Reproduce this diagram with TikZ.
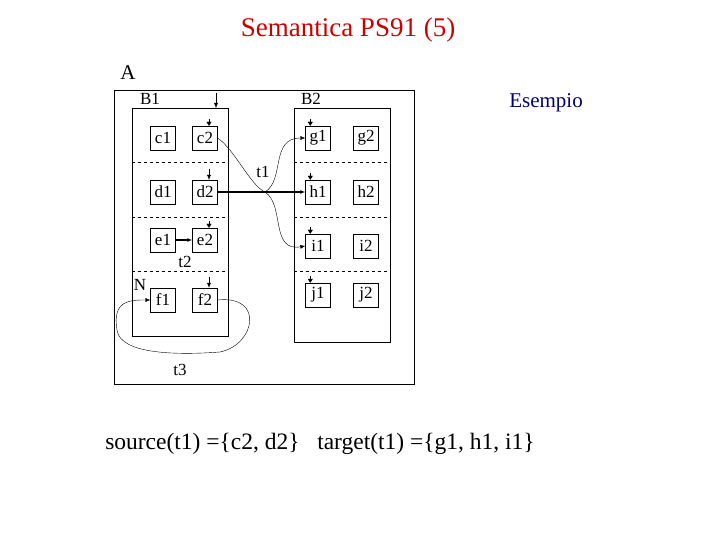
\documentclass[tikz,border=0pt]{standalone}
\usepackage{fontspec}
\setmainfont{Liberation Serif}
\usetikzlibrary{arrows.meta}
\begin{document}
\begin{tikzpicture}[x=1pt,y=-1pt,
  pl/.style={draw,minimum width=25pt,minimum height=24pt,inner sep=0pt,font=\fontsize{17}{17}\selectfont},
  lbl/.style={font=\fontsize{17}{17}\selectfont,inner sep=0pt},
  tok/.style={-{Triangle[length=4pt,width=5pt]}},
  arr/.style={-{Latex[length=5pt,width=4pt]}}]
\useasboundingbox (0,0) rectangle (720,540);
\node[font=\fontsize{27}{27}\selectfont,text=red!80!black] (title) at (348,30) {Semantica PS91 (5)};
\node[lbl,font=\fontsize{21}{21}\selectfont] (A) at (128,73) {A};
\node[font=\fontsize{21}{21}\selectfont,text=blue!45!black] (es) at (546,103) {Esempio};
\draw (114,90) rectangle (414,384);
\draw (132,108) rectangle (228,336);
\draw (294,108) rectangle (390,342);
\foreach \y in {162,217,271}{\draw[dashed] (132,\y)--(228,\y); \draw[dashed] (294,\y)--(390,\y);}
\node[lbl] (B1) at (150,99) {B1};
\node[lbl] (B2) at (311,99) {B2};
\node[pl] (c1) at (163,138) {c1};
\node[pl] (c2) at (205,138) {c2};
\node[pl] (d1) at (163,192) {d1};
\node[pl] (d2) at (205,192) {d2};
\node[pl] (e1) at (163,240) {e1};
\node[pl] (e2) at (205,240) {e2};
\node[pl] (f1) at (163,300) {f1};
\node[pl] (f2) at (205,300) {f2};
\node[pl] (g1) at (318,138) {g1};
\node[pl] (g2) at (366,138) {g2};
\node[pl] (h1) at (318,192) {h1};
\node[pl] (h2) at (366,192) {h2};
\node[pl] (i1) at (318,246) {i1};
\node[pl] (i2) at (366,246) {i2};
\node[pl] (j1) at (318,295) {j1};
\node[pl] (j2) at (366,295) {j2};
\node[lbl] (t1) at (263,172) {t1};
\node[lbl] (t2) at (185,262) {t2};
\node[lbl] (t3) at (180,370) {t3};
\node[lbl] (N) at (140,285) {N};
% tokens
\coordinate (k0) at (216,93);
\draw[arr] (k0) -- (216,108);
\foreach \n in {g1,h1,i1,j1}{\draw[tok] ([xshift=5pt,yshift=7pt]\n.north west) -- ([xshift=5pt]\n.north west);}
\foreach \n in {c2,e2}{\draw[tok] ([xshift=4pt,yshift=7pt]\n.north) -- ([xshift=4pt]\n.north);}
\foreach \n in {d2,f2}{\draw[arr] ([xshift=4pt,yshift=11pt]\n.north) -- ([xshift=4pt]\n.north);}
\coordinate (x) at (265,192);
\draw[line width=1.3pt,arr] (d2.east) -- (h1.west);
\draw (c2.east) .. controls (235,150) and (250,185) .. (x);
\draw[arr] (x) .. controls (285,180) and (270,138) .. (g1.west);
\draw[arr] (x) .. controls (285,205) and (270,252) .. (i1.west);
\draw[line width=1.2pt,arr] (e1.east) -- (e2.west);
\draw[arr] (f2.east) .. controls (265,295) and (255,345) .. (220,352) .. controls (180,355) and (120,355) .. (117,330) .. controls (112,300) and (130,300) .. (f1.west);
\node[font=\fontsize{23.5}{23.5}\selectfont] (src) at (320,444) {source(t1) =\{c2, d2\} \ \ target(t1) =\{g1, h1, i1\}};
\end{tikzpicture}
\end{document}
